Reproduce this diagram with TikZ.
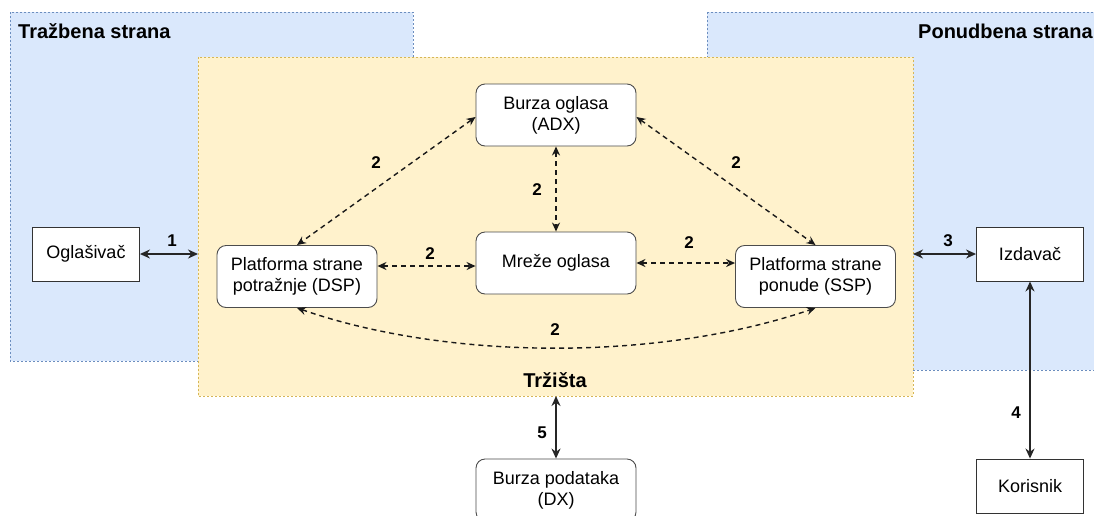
\documentclass[tikz,border=0pt]{standalone}
\usepackage{fontspec}
\setmainfont{Liberation Sans}
\usetikzlibrary{arrows.meta}
\definecolor{bfill}{HTML}{DAE8FC}
\definecolor{bline}{HTML}{6C8EBF}
\definecolor{yfill}{HTML}{FFF2CC}
\definecolor{yline}{HTML}{D6B656}
\tikzset{
  zone/.style={dash pattern=on 2pt off 2pt, line width=0.6pt},
  plainbox/.style={draw=black!80, fill=white, line width=0.9pt, minimum width=107pt, minimum height=54pt, align=center, font=\fontsize{18}{21}\selectfont},
  roundbox/.style={draw=black!70, fill=white, line width=0.9pt, rounded corners=9pt, minimum width=160pt, minimum height=62pt, align=center, font=\fontsize{18}{21}\selectfont},
  solidarrow/.style={line width=1.4pt, draw=black!85, {Stealth[length=10pt,width=9pt]}-{Stealth[length=10pt,width=9pt]}},
  dasharrow/.style={line width=1.4pt, draw=black!90, dash pattern=on 5pt off 4pt, {Stealth[length=9pt,width=8pt]}-{Stealth[length=9pt,width=8pt]}},
  lbl/.style={font=\bfseries\fontsize{17}{20}\selectfont, inner sep=0pt},
  title/.style={font=\bfseries\fontsize{20}{24}\selectfont, inner sep=0pt}
}
\begin{document}
\begin{tikzpicture}[x=1pt,y=-1pt]
\clip (0,0) rectangle (1094,515);
\fill[white] (0,0) rectangle (1094,515);
% zones
\draw[zone, fill=bfill, draw=bline] (10,12) rectangle (413,361);
\draw[zone, fill=bfill, draw=bline] (707,12) rectangle (1110,370);
\draw[zone, fill=yfill, draw=yline] (198,57) rectangle (913,396);
\node[title, anchor=west] (t1) at (18,31) {Tražbena strana};
\node[title, anchor=west] (t2) at (918,31) {Ponudbena strana};
\node[title] (t3) at (555,380) {Tržišta};
\coordinate (yl) at (198,254);
\coordinate (yr) at (913,254);
\coordinate (yb) at (556,396);
% nodes
\node[plainbox] (ogl) at (86,254) {Oglašivač};
\node[plainbox] (izd) at (1030,254) {Izdavač};
\node[plainbox] (kor) at (1030,486) {Korisnik};
\node[roundbox] (dsp) at (297,276.5) {Platforma strane\\potražnje (DSP)};
\node[roundbox] (ssp) at (815.5,276.5) {Platforma strane\\ponude (SSP)};
\node[roundbox] (adx) at (556,115) {Burza oglasa\\(ADX)};
\node[roundbox] (mre) at (556,263) {Mreže oglasa};
\node[roundbox] (dx) at (556,490) {Burza podataka\\(DX)};
% solid connectors
\draw[solidarrow] (ogl.east) -- (yl);
\draw[solidarrow] (yr) -- (izd.west);
\draw[solidarrow] (izd.south) -- (kor.north);
\draw[solidarrow] (yb) -- (dx.north);
\node[lbl] (l1) at (172,241) {1};
\node[lbl] (l3) at (948,241) {3};
\node[lbl] (l4) at (1016,413) {4};
\node[lbl] (l5) at (542,433) {5};
% dashed connectors
\draw[dasharrow] (adx.south) -- (mre.north);
\draw[dasharrow] (adx.west |- 0,117) -- (dsp.north);
\draw[dasharrow] (adx.east |- 0,117) -- (ssp.north);
\draw[dasharrow] (dsp.east |- 0,266) -- (mre.west |- 0,266);
\draw[dasharrow] (mre.east) -- (ssp.west |- 0,263);
\draw[dasharrow] (dsp.south) .. controls (450,361) and (660,361) .. (ssp.south);
\node[lbl] (l2a) at (537,190) {2};
\node[lbl] (l2b) at (376,163) {2};
\node[lbl] (l2c) at (736,163) {2};
\node[lbl] (l2d) at (430,254) {2};
\node[lbl] (l2e) at (689,243) {2};
\node[lbl] (l2f) at (555,330) {2};
\end{tikzpicture}
\end{document}
